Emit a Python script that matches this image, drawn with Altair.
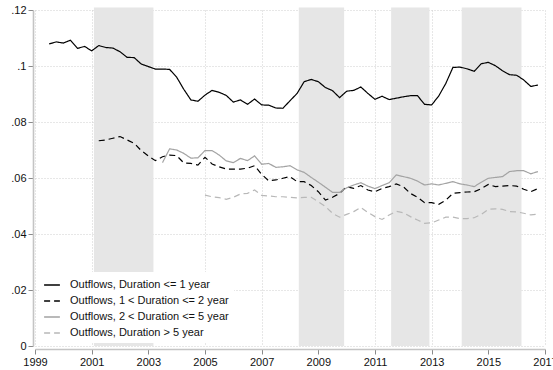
import altair as alt
import pandas as pd

# Quarterly observations, 1999Q3 - 2016Q4
start_le1 = 1999.5
outflow_le1 = [
    0.1079, 0.1086, 0.1082, 0.1092, 0.1063, 0.1070, 0.1054, 0.1073, 0.1066, 0.1064,
    0.1051, 0.1031, 0.1030, 0.1007, 0.0998, 0.0989, 0.0989, 0.0988, 0.0960, 0.0917,
    0.0879, 0.0874, 0.0896, 0.0913, 0.0906, 0.0895, 0.0871, 0.0879, 0.0863, 0.0882,
    0.0861, 0.0860, 0.0850, 0.0849, 0.0876, 0.0902, 0.0944, 0.0952, 0.0944, 0.0923,
    0.0912, 0.0887, 0.0910, 0.0913, 0.0925, 0.0902, 0.0881, 0.0892, 0.0880, 0.0885,
    0.0890, 0.0894, 0.0894, 0.0863, 0.0861, 0.0893, 0.0938, 0.0995, 0.0996, 0.0990,
    0.0981, 0.1008, 0.1013, 0.1001, 0.0983, 0.0969, 0.0967, 0.0950, 0.0927, 0.0932,
]

start_1to2 = 2001.25
outflow_1to2 = [
    0.0733, 0.0736, 0.0742, 0.0748, 0.0736, 0.0724, 0.0698, 0.0679, 0.0662, 0.0676,
    0.0682, 0.0680, 0.0654, 0.0652, 0.0646, 0.0674, 0.0650, 0.0640, 0.0632, 0.0632,
    0.0632, 0.0635, 0.0644, 0.0613, 0.0590, 0.0593, 0.0599, 0.0605, 0.0587, 0.0587,
    0.0573, 0.0551, 0.0521, 0.0531, 0.0545, 0.0569, 0.0563, 0.0573, 0.0557, 0.0551,
    0.0563, 0.0569, 0.0579, 0.0569, 0.0545, 0.0531, 0.0512, 0.0512, 0.0506, 0.0521,
    0.0545, 0.0548, 0.0550, 0.0551, 0.0562, 0.0577, 0.0569, 0.0571, 0.0573, 0.0571,
    0.0560, 0.0551, 0.0562,
]

start_2to5 = 2003.5
outflow_2to5 = [
    0.0655, 0.0704, 0.0700, 0.0688, 0.0671, 0.0672, 0.0698, 0.0698, 0.0682, 0.0661,
    0.0655, 0.0670, 0.0662, 0.0679, 0.0649, 0.0652, 0.0638, 0.0640, 0.0644, 0.0629,
    0.0620, 0.0602, 0.0585, 0.0567, 0.0549, 0.0549, 0.0565, 0.0575, 0.0583, 0.0571,
    0.0562, 0.0573, 0.0583, 0.0611, 0.0605, 0.0599, 0.0589, 0.0575, 0.0579, 0.0575,
    0.0581, 0.0587, 0.0579, 0.0575, 0.0569, 0.0585, 0.0599, 0.0602, 0.0605, 0.0623,
    0.0626, 0.0626, 0.0615, 0.0623,
]

start_gt5 = 2005.0
outflow_gt5 = [
    0.0539, 0.0533, 0.0530, 0.0524, 0.0531, 0.0543, 0.0545, 0.0557, 0.0538, 0.0536,
    0.0533, 0.0533, 0.0531, 0.0529, 0.0531, 0.0531, 0.0515, 0.0498, 0.0474, 0.0460,
    0.0470, 0.0480, 0.0495, 0.0477, 0.0462, 0.0452, 0.0468, 0.0481, 0.0476, 0.0462,
    0.0450, 0.0438, 0.0440, 0.0450, 0.0460, 0.0460, 0.0455, 0.0455, 0.0458, 0.0470,
    0.0488, 0.0490, 0.0488, 0.0480, 0.0479, 0.0474, 0.0468, 0.0471,
]

# Shaded periods (start, end) in fractional years
band_start = [2001.08, 2008.31, 2011.57, 2014.06]
band_end = [2003.18, 2009.91, 2012.92, 2016.17]

series_names = [
    "Outflows, Duration <= 1 year",
    "Outflows, 1 < Duration <= 2 year",
    "Outflows, 2 < Duration <= 5 year",
    "Outflows, Duration > 5 year",
]
series_colors = ["#000000", "#000000", "#a3a3a3", "#b8b8b8"]
series_dashes = [[1, 0], [6, 4], [1, 0], [6, 4]]

rows = []
for name, start, vals in zip(
    series_names,
    [start_le1, start_1to2, start_2to5, start_gt5],
    [outflow_le1, outflow_1to2, outflow_2to5, outflow_gt5],
):
    for i, v in enumerate(vals):
        rows.append({"t": start + 0.25 * i, "value": v, "series": name})
lines_df = pd.DataFrame(rows)

bands_df = pd.DataFrame({"x1": band_start, "x2": band_end, "lo": 0.0, "hi": 0.1209})

x_scale = alt.Scale(domain=[1999, 2017], nice=False, zero=False)
y_scale = alt.Scale(domain=[0, 0.12], nice=False)


def series_legend():
    return alt.Legend(
        title=None, orient="none", legendX=4, legendY=262,
        symbolType="stroke", symbolSize=250, symbolStrokeWidth=1.3,
        labelFontSize=11, labelColor="#111111", labelOffset=9,
        rowPadding=2, padding=4, fillColor="white", strokeColor="white",
        labelLimit=300,
    )


bands = alt.Chart(bands_df).mark_rect(color="#e6e6e6", clip=False).encode(
    x=alt.X("x1:Q", scale=x_scale,
            axis=alt.Axis(values=list(range(1999, 2018, 2)), format="d", title=None,
                          grid=True, offset=3, labelFlush=False, labelOverlap=False)),
    x2="x2:Q",
    y=alt.Y("lo:Q", scale=y_scale,
            axis=alt.Axis(values=[0, 0.02, 0.04, 0.06, 0.08, 0.10, 0.12], title=None,
                          grid=True, offset=2, labelFlush=False, labelOverlap=False,
                          labelExpr="datum.value == 0 ? '0' : substring(format(datum.value, '.2~f'), 1)")),
    y2="hi:Q",
)

lines = alt.Chart(lines_df).mark_line(strokeWidth=1.2, clip=False).encode(
    x=alt.X("t:Q", scale=x_scale),
    y=alt.Y("value:Q", scale=y_scale),
    color=alt.Color(
        "series:N",
        sort=series_names,
        scale=alt.Scale(domain=series_names, range=series_colors),
        legend=series_legend(),
    ),
    strokeDash=alt.StrokeDash(
        "series:N",
        sort=series_names,
        scale=alt.Scale(domain=series_names, range=series_dashes),
        legend=series_legend(),
    ),
)

chart = (
    alt.layer(bands, lines)
    .properties(
        width=510,
        height=336,
        autosize=alt.AutoSizeParams(type="none"),
        padding={"left": 35, "top": 10, "right": 8, "bottom": 24},
    )
    .configure(font="Liberation Sans")
    .configure_view(stroke=None)
    .configure_axis(
        domainColor="#c4c4c4",
        domainWidth=1.6,
        tickColor="#8a8a8a",
        tickSize=5,
        tickWidth=1,
        labelFontSize=11,
        labelColor="#111111",
        labelPadding=2,
        gridColor="#cfcfcf",
        gridDash=[1, 2],
        gridWidth=1,
    )
    .configure_axisY(labelAlign="right")
)

chart.save("out.html", embed_options={"renderer": "svg", "actions": False})
